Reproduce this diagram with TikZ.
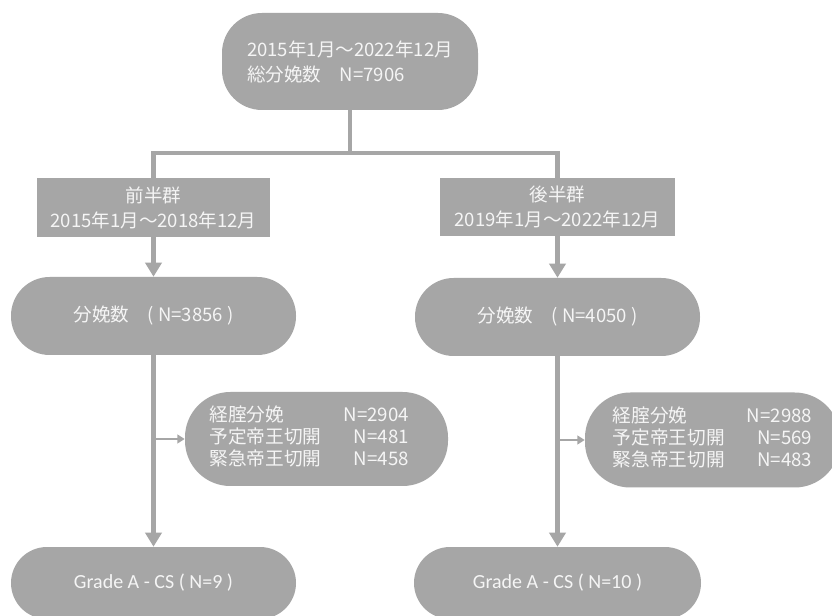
\documentclass[tikz,border=0pt]{standalone}
\usepackage{fontspec}
\setmainfont{Noto Sans CJK JP}
\newfontfamily\latfont{Carlito}
\usetikzlibrary{arrows.meta}
\definecolor{boxgray}{HTML}{A6A6A6}
\definecolor{txtw}{HTML}{F5F5F5}
\begin{document}
\begin{tikzpicture}[x=0.75pt,y=-0.75pt,
  box/.style={fill=boxgray, text=txtw, inner sep=0pt, align=center,
    font=\fontsize{13.9pt}{18.75pt}\selectfont},
  conn/.style={draw=boxgray, line width=3.3pt, line join=miter},
  bigtip/.style={-{Triangle[width=12pt,length=10.5pt]}},
  smalltip/.style={draw=boxgray, line width=1.6pt, -{Triangle[width=6.5pt,length=5.5pt]}},
  subtext/.style={font=\fontsize{14pt}{16.2pt}\selectfont}
]
\clip (0,0) rectangle (832,616);
\fill[white] (0,0) rectangle (832,616);

\node[box, rounded corners=30pt, minimum width=256*0.75pt, minimum height=97*0.75pt, align=left]
  (top) at (350,61.5) {2015年1月～2022年12月\\総分娩数\quad N=7906};

\node[box, minimum width=233*0.75pt, minimum height=59*0.75pt] (lgrp) at (153.5,207.5)
  {前半群\\2015年1月～2018年12月};
\node[box, minimum width=235*0.75pt, minimum height=58*0.75pt] (rgrp) at (557.5,207)
  {後半群\\2019年1月～2022年12月};

\node[box, rounded corners=29pt, minimum width=285*0.75pt, minimum height=78*0.75pt] (lcnt) at (153.5,316)
  {分娩数\quad ( N=3856 )};
\node[box, rounded corners=29pt, minimum width=285*0.75pt, minimum height=78*0.75pt] (rcnt) at (557.5,317)
  {分娩数\quad ( N=4050 )};

\node[box, rounded corners=34pt, minimum width=263*0.75pt, minimum height=94*0.75pt, subtext] (lsub) at (316.5,439)
  {\begin{tabular}{@{}l@{\hspace{16.5pt}}r@{\hspace{11pt}}}
   経腟分娩 & N=2904\\ 予定帝王切開 & N=481\\ 緊急帝王切開 & N=458\end{tabular}};
\node[box, rounded corners=34pt, minimum width=255*0.75pt, minimum height=95*0.75pt, subtext] (rsub) at (712.5,440)
  {\begin{tabular}{@{}l@{\hspace{16.5pt}}r@{}}
   経腟分娩 & N=2988\\ 予定帝王切開 & N=569\\ 緊急帝王切開 & N=483\end{tabular}};

\node[box, rounded corners=27pt, minimum width=285*0.75pt, minimum height=72*0.75pt,
  font=\latfont\fontsize{15pt}{18pt}\selectfont] (lres) at (153.5,583)
  {Grade A - CS ( N=9 )};
\node[box, rounded corners=27pt, minimum width=287*0.75pt, minimum height=72*0.75pt,
  font=\latfont\fontsize{15pt}{18pt}\selectfont] (rres) at (557.5,583)
  {Grade A - CS ( N=10 )};

\coordinate (j) at (350,153);
\draw[conn] (top.south) -- (j);
\draw[conn] (lgrp.north) -- (lgrp.north |- j) -- (rgrp.north |- j) -- (rgrp.north);

\draw[conn, bigtip] (lgrp.south) -- (lcnt.north);
\draw[conn, bigtip] (rgrp.south) -- (rcnt.north);
\draw[conn, bigtip] (lcnt.south) -- (lres.north);
\draw[conn, bigtip] (rcnt.south) -- (rres.north);

\coordinate (ls) at (lcnt.south |- lsub.west);
\coordinate (rs) at (rcnt.south |- rsub.west);
\draw[smalltip] (ls) -- (lsub.west);
\draw[smalltip] (rs) -- (rsub.west);
\end{tikzpicture}
\end{document}
